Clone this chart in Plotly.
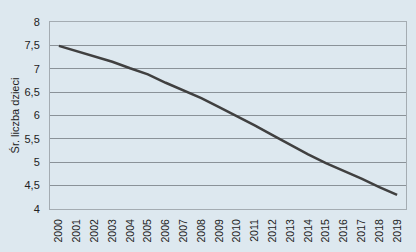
import plotly.graph_objects as go

years = [str(y) for y in range(2000, 2020)]
values = [7.49, 7.38, 7.26, 7.15, 7.01, 6.88, 6.70, 6.54, 6.37, 6.18,
          5.99, 5.79, 5.58, 5.37, 5.17, 4.98, 4.82, 4.65, 4.47, 4.30]
y_ticks = [4, 4.5, 5, 5.5, 6, 6.5, 7, 7.5, 8]
y_tick_text = ["4", "4,5", "5", "5,5", "6", "6,5", "7", "7,5", "8"]

bg = "#dde8ef"
fig = go.Figure()
fig.add_trace(go.Scatter(x=years, y=values, mode="lines",
                         line=dict(color="#404040", width=2.5),
                         showlegend=False, hoverinfo="skip"))
fig.update_layout(
    width=416, height=252,
    margin=dict(l=50, r=9, t=22, b=41),
    paper_bgcolor=bg, plot_bgcolor=bg,
    font=dict(family="Liberation Sans, Arial, sans-serif", size=11, color="#222222"),
)
fig.update_xaxes(type="category", range=[-0.5, 19.5], tickangle=-90,
                 showgrid=False, showline=True, linecolor="#a4acb2", linewidth=1,
                 mirror=True, ticks="", tickfont=dict(size=10.5), ticklabelstandoff=5)
fig.update_yaxes(range=[4, 8], tickvals=y_ticks, ticktext=y_tick_text,
                 showgrid=True, gridcolor="#8a9298", gridwidth=1,
                 showline=True, linecolor="#a4acb2", linewidth=1, mirror=True,
                 zeroline=False, ticks="", ticklabelstandoff=7,
                 title=dict(text="Śr. liczba dzieci", font=dict(size=11), standoff=2))
fig.write_html("out.html")
